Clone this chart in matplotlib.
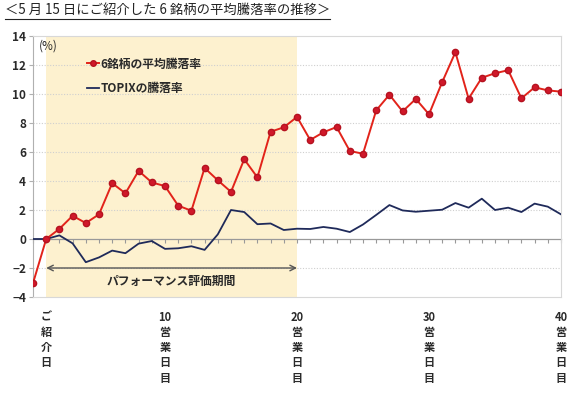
import numpy as np
import matplotlib
matplotlib.use("Agg")
import matplotlib.pyplot as plt
from matplotlib.lines import Line2D

plt.rcParams['font.family'] = ['Noto Sans CJK JP', 'DejaVu Sans']

# data, day 0 = day before introduction
days = list(range(0, 41))
avg6 = [-3.05, 0.0, 0.7, 1.6, 1.1, 1.7, 3.85, 3.15, 4.7, 3.9,
        3.65, 2.3, 1.95, 4.9, 4.05, 3.25, 5.5, 4.25, 7.4, 7.7,
        8.42, 6.83, 7.36, 7.72, 6.07, 5.88, 8.87, 9.95, 8.8, 9.66,
        8.6, 10.82, 12.88, 9.68, 11.12, 11.43, 11.64, 9.7, 10.46, 10.25,
        10.16]
topix = [0.0, 0.0, 0.25, -0.3, -1.6, -1.27, -0.8, -0.98, -0.32, -0.14,
         -0.68, -0.64, -0.5, -0.75, 0.32, 2.0, 1.86, 1.02, 1.07, 0.62,
         0.71, 0.69, 0.83, 0.71, 0.48, 1.0, 1.66, 2.34, 1.97, 1.88,
         1.95, 2.02, 2.48, 2.16, 2.78, 2.0, 2.16, 1.86, 2.44, 2.23,
         1.7]
label_days = [1, 10, 20, 30, 40]
label_texts = ["ご\n紹\n介\n日", "10\n営\n業\n日\n目", "20\n営\n業\n日\n目",
               "30\n営\n業\n日\n目", "40\n営\n業\n日\n目"]
period = (1, 20)

title = "＜5 月 15 日にご紹介した 6 銘柄の平均騰落率の推移＞"
red = "#e2231a"
navy = "#1f2a5a"
grey = "#b0b0b0"
txt = "#2a2a2a"

fig = plt.figure(figsize=(5.85, 3.94), dpi=100)
ax = fig.add_axes([33 / 585, 1 - 297 / 394, (561 - 33) / 585, (297 - 36) / 394])

# evaluation period shading
ax.axvspan(period[0], period[1], color="#fdf1cf", lw=0, zorder=0)

# gridlines
for yv in [-2, 2, 4, 6, 8, 10, 12]:
    ax.axhline(yv, color="#cfcfcf", lw=0.8, ls=(0, (1, 1.5)), zorder=1)

ax.plot(days, topix, color=navy, lw=1.3, zorder=3)
ax.plot(days, avg6, color=red, lw=1.4, marker="o", ms=4.5,
        mfc="#d0182a", mec="#b5121f", zorder=4)

ax.set_xlim(0, 40)
ax.set_ylim(-4, 14)
ax.set_yticks(range(-4, 15, 2))
ax.tick_params(axis="y", length=3, color=grey, labelsize=8.5, labelcolor=txt, pad=2)
for t in ax.get_yticklabels():
    t.set_fontweight("bold")

ax.set_xticks(label_days)
ax.set_xticklabels(label_texts, fontsize=8, fontweight="bold", color=txt,
                   linespacing=1.22, va="top")
ax.tick_params(axis="x", length=0, pad=10)

for s in ["top", "right", "bottom"]:
    ax.spines[s].set_color("#d8d8d8")
    ax.spines[s].set_linewidth(0.8)
ax.spines["left"].set_color(grey)
ax.spines["left"].set_linewidth(0.8)

# zero axis with day ticks
sec = ax.secondary_xaxis(4 / 18)
sec.set_xticks(days)
sec.set_xticklabels([])
sec.tick_params(axis="x", length=3, color="#999999", direction="out")
sec.spines["bottom"].set_color("#999999")
sec.spines["bottom"].set_linewidth(0.9)

# period arrow
ax.annotate("", xy=(period[0], -2), xytext=(period[1], -2),
            arrowprops=dict(arrowstyle="<->", color="#555555", lw=1.0,
                            shrinkA=0, shrinkB=0), zorder=5)
ax.text((period[0] + period[1]) / 2, -2.95, "パフォーマンス評価期間", ha="center",
        va="center", fontsize=8.5, fontweight="bold", color=txt)

# legend-like labels
ax.text(0.45, 13.3, "(%)", fontsize=8.5, color=txt, va="center")
leg = ax.legend(handles=[
    Line2D([], [], color=red, lw=1.4, marker="o", ms=4, mfc="#d0182a", mec="#b5121f"),
    Line2D([], [], color=navy, lw=1.3)],
    labels=["6銘柄の平均騰落率", "TOPIXの騰落率"],
    loc="upper left", bbox_to_anchor=(0.082, 0.958), frameon=False,
    handlelength=1.0, handletextpad=0.15, labelspacing=1.0,
    prop={"size": 8.5, "weight": "bold"})
for t in leg.get_texts():
    t.set_color(txt)

# title with underline
tt = fig.text(5 / 585, 1 - 3 / 394, title, fontsize=9.6, color="#222222",
              va="top", ha="left")
fig.canvas.draw()
bb = tt.get_window_extent().transformed(fig.transFigure.inverted())
fig.add_artist(Line2D([bb.x0, bb.x1], [bb.y0 - 0.004, bb.y0 - 0.004],
                      transform=fig.transFigure, color="#222222", lw=0.8))

fig.savefig("out.png", dpi=100)
